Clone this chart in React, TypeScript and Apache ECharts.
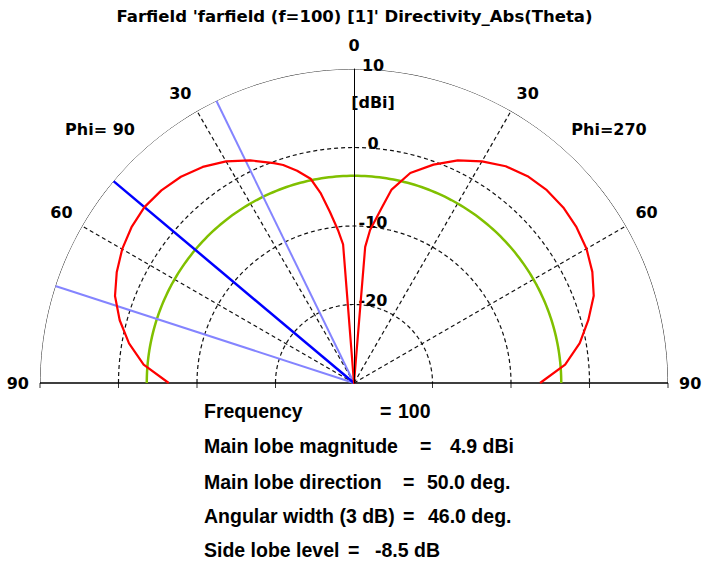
import React, { useEffect, useRef } from "react";
import * as echarts from "echarts";

// ---------- data ----------
const TITLE = "Farfield 'farfield (f=100) [1]' Directivity_Abs(Theta)";

// Phi = 90 half (drawn on the left), theta in degrees, directivity in dBi
const leftTheta = [0, 4.5, 6, 8, 10, 12, 15, 18, 20, 25, 30, 35, 40, 45, 50, 55, 60, 65, 70, 75, 80, 85, 90];
const leftDb = [-30, -12.3, -10.4, -8.0, -5.4, -3.4, -2.0, -0.8, -0.2, 1.3, 2.6, 3.6, 4.3, 4.7, 4.85, 4.6, 4.1, 3.35, 2.4, 0.9, -0.9, -3.1, -6.4];

// Phi = 270 half (drawn on the right)
const rightTheta = [0, 4.7, 6, 9, 11, 15, 20, 25, 30, 35, 40, 45, 50, 55, 60, 65, 70, 75, 80, 85, 90];
const rightDb = [-30, -12.6, -10.4, -7.4, -4.9, -2.3, -0.4, 1.3, 2.6, 3.7, 4.4, 4.74, 4.8, 4.6, 4.2, 3.5, 2.5, 0.9, -0.8, -3.0, -6.3];

const sideLobeRefLevel = [-3.6]; // green circle
const mainLobeDirection = [50]; // dark blue (Phi=90 side)
const beamWidthEdges = [26, 72]; // light blue (Phi=90 side)

const radiusMin = -30;
const radiusMax = 10;
const radiusInterval = 10;
const radiusTickLabels = [10, 0, -10, -20];
const gridCircleValues = [-20, -10, 0];
const spokeThetas = [30, 60];

const phiLabels = ["Phi= 90", "Phi=270"];
const unitLabel = "[dBi]";

const infoNames = ["Frequency", "Main lobe magnitude", "Main lobe direction", "Angular width (3 dB)", "Side lobe level"];
const infoValues = ["100", "4.9 dBi", "50.0 deg.", "46.0 deg.", "-8.5 dB"];

// ---------- helpers ----------
const leftAngle = (t: number) => t;
const rightAngle = (t: number) => 360 - t;

function halfCircle(v: number): number[][] {
  const pts: number[][] = [];
  for (let t = 90; t >= 0; t -= 1) pts.push([v, leftAngle(t)]);
  for (let t = 0; t <= 90; t += 1) pts.push([v, rightAngle(t)]);
  return pts;
}

const CX = 354;
const CY = 383;
const R = 314;

const LABEL_FONT = "DejaVu Sans";
const INFO_FONT = "Liberation Sans";

export default function App() {
  const ref = useRef<HTMLDivElement>(null);

  useEffect(() => {
    if (!ref.current) return;
    const chart = echarts.init(ref.current, undefined, { renderer: "svg" });

    const base = {
      type: "line",
      coordinateSystem: "polar",
      symbol: "none",
      showSymbol: false,
      silent: true,
      smooth: false,
      animation: false,
    };

    const series: any[] = [];

    // dashed grid circles
    gridCircleValues.forEach((v) => {
      series.push({
        ...base,
        data: halfCircle(v),
        lineStyle: { color: "#111", width: 1.2, type: [4, 3] },
        z: 1,
      });
    });

    // dashed spokes
    spokeThetas.forEach((t) => {
      [leftAngle(t), rightAngle(t)].forEach((a) => {
        series.push({
          ...base,
          data: [
            [radiusMin, a],
            [radiusMax, a],
          ],
          lineStyle: { color: "#111", width: 1.2, type: [4, 3] },
          z: 1,
        });
      });
    });

    // outer semicircle
    series.push({
      ...base,
      data: halfCircle(radiusMax),
      lineStyle: { color: "#222", width: 1 },
      z: 2,
    });

    // baseline (theta = 90 on both sides)
    series.push({
      ...base,
      data: [
        [radiusMax, leftAngle(90)],
        [radiusMin, leftAngle(90)],
        [radiusMax, rightAngle(90)],
      ],
      lineStyle: { color: "#000", width: 1.5 },
      z: 2,
    });

    // small ticks under the baseline
    series.push({
      type: "scatter",
      coordinateSystem: "polar",
      silent: true,
      symbol: "rect",
      symbolSize: [1, 5],
      symbolOffset: [0, 2.5],
      itemStyle: { color: "#000" },
      data: [...gridCircleValues, radiusMax].flatMap((v) => [
        [v, leftAngle(90)],
        [v, rightAngle(90)],
      ]),
      z: 2,
    });

    // green side lobe reference
    series.push({
      ...base,
      data: halfCircle(sideLobeRefLevel[0]),
      lineStyle: { color: "#80c000", width: 2.5 },
      z: 3,
    });

    // light blue beam width edges
    beamWidthEdges.forEach((t) => {
      series.push({
        ...base,
        data: [
          [radiusMin, leftAngle(t)],
          [radiusMax, leftAngle(t)],
        ],
        lineStyle: { color: "#8484ff", width: 2 },
        z: 4,
      });
    });

    // dark blue main lobe direction
    series.push({
      ...base,
      data: [
        [radiusMin, leftAngle(mainLobeDirection[0])],
        [radiusMax, leftAngle(mainLobeDirection[0])],
      ],
      lineStyle: { color: "#0000ff", width: 2.5 },
      z: 5,
    });

    // red directivity pattern
    const leftPts = leftTheta.map((t, i) => [leftDb[i], leftAngle(t)]).reverse();
    const rightPts = rightTheta.map((t, i) => [rightDb[i], rightAngle(t)]);
    series.push({
      ...base,
      data: [...leftPts, ...rightPts],
      lineStyle: { color: "#ff0000", width: 2.2, join: "round" },
      z: 6,
    });

    const labelStyle = {
      fontFamily: LABEL_FONT,
      fontWeight: "bold",
      fontSize: 16,
      color: "#000",
    };
    const labelFont = `bold 16px "${LABEL_FONT}"`;

    const graphics: any[] = [
      {
        type: "text",
        x: 100,
        y: 129,
        style: { text: phiLabels[0], font: labelFont, fill: "#000", align: "center", verticalAlign: "middle" },
      },
      {
        type: "text",
        x: 609,
        y: 129,
        style: { text: phiLabels[1], font: labelFont, fill: "#000", align: "center", verticalAlign: "middle" },
      },
      {
        type: "text",
        x: 373,
        y: 102,
        style: { text: unitLabel, font: labelFont, fill: "#000", align: "center", verticalAlign: "middle" },
      },
    ];

    const rowY = [411, 446, 482, 516, 550];
    const eqX = [380, 420, 403, 403, 348];
    const valX = [398, 450, 427, 428, 375];
    infoNames.forEach((name, i) => {
      const f = `bold 19.5px "${INFO_FONT}"`;
      graphics.push({ type: "text", x: 204, y: rowY[i], style: { text: name, font: f, fill: "#000", verticalAlign: "middle" } });
      graphics.push({ type: "text", x: eqX[i], y: rowY[i], style: { text: "=", font: f, fill: "#000", verticalAlign: "middle" } });
      graphics.push({ type: "text", x: valX[i], y: rowY[i], style: { text: infoValues[i], font: f, fill: "#000", verticalAlign: "middle" } });
    });

    chart.setOption({
      animation: false,
      backgroundColor: "#fff",
      title: {
        text: TITLE,
        left: "center",
        top: 8,
        padding: 0,
        textStyle: { ...labelStyle, fontSize: 16.5 },
      },
      polar: { center: [CX, CY], radius: R },
      angleAxis: {
        type: "value",
        min: 0,
        max: 360,
        interval: 30,
        startAngle: 90,
        clockwise: false,
        axisLine: { show: false },
        axisTick: { show: false },
        splitLine: { show: false },
        axisLabel: {
          ...labelStyle,
          margin: 11,
          formatter: (v: number) =>
            v === 0 ? "{top|0}" : v <= 90 ? String(v) : v >= 270 && v < 360 ? String(360 - v) : "",
          rich: {
            top: { ...labelStyle, padding: [0, 0, 5, 0] },
          },
        },
      },
      radiusAxis: {
        type: "value",
        min: radiusMin,
        max: radiusMax,
        interval: radiusInterval,
        axisLine: { show: true, lineStyle: { color: "#000", width: 1 } },
        axisTick: { show: false },
        splitLine: { show: false },
        axisLabel: { show: false },
        z: 10,
      },
      graphic: graphics,
      series,
    });

    // radius tick labels, placed through the polar scale, to the right of the axis
    const tickGraphics = radiusTickLabels.map((v) => {
      const p = chart.convertToPixel({ polarIndex: 0 } as any, [v, 0]) as number[];
      return {
        type: "text",
        x: p[0] + 19,
        y: p[1] - 4,
        style: { text: String(v), font: labelFont, fill: "#000", align: "center", verticalAlign: "middle" },
      };
    });
    chart.setOption({ graphic: [...graphics, ...tickGraphics] });

    return () => chart.dispose();
  }, []);

  return (
    <div
      ref={ref}
      style={{ position: "fixed", left: 0, top: 0, width: 709, height: 567, background: "#fff" }}
    />
  );
}
